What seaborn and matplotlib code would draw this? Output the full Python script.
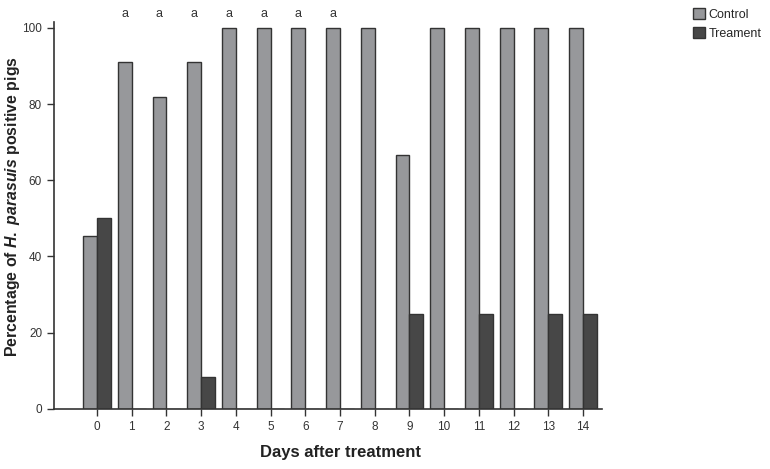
import numpy as np
import pandas as pd
import matplotlib
matplotlib.use('Agg')
import matplotlib.pyplot as plt
import seaborn as sns

days = list(range(15))
control = [45.5, 90.9, 81.8, 90.9, 100, 100, 100, 100, 100, 66.7, 100, 100, 100, 100, 100]
treatment = [50, 0, 0, 8.3, 0, 0, 0, 0, 0, 25, 0, 25, 0, 25, 25]
groups = ['Control', 'Treament']
marked_days = [1, 2, 3, 4, 5, 6, 7]

df = pd.DataFrame({
    'day': days * 2,
    'value': control + treatment,
    'group': [groups[0]] * len(days) + [groups[1]] * len(days),
})

sns.set_style('ticks')
plt.rcParams['font.family'] = ['Liberation Sans', 'DejaVu Sans']
plt.rcParams['mathtext.fontset'] = 'custom'
plt.rcParams['mathtext.it'] = 'Liberation Sans:bold:italic'
plt.rcParams['mathtext.rm'] = 'Liberation Sans:bold'

fig = plt.figure(figsize=(7.7, 4.69), dpi=100)
ax = fig.add_axes([0.070, 0.128, 0.712, 0.825])

sns.barplot(data=df, x='day', y='value', hue='group', hue_order=groups,
            palette=['#97989b', '#474747'], width=0.8, dodge=True,
            edgecolor='#333333', linewidth=1, saturation=1, ax=ax, legend=False)

# significance letters over the control bars
for d in marked_days:
    ax.text(d - 0.2, 103.6, 'a', ha='center', va='center', fontsize=9,
            color='#333333', clip_on=False)

ax.set_xlim(-1.24, 14.55)
ax.set_ylim(0, 101.5)
ax.set_yticks([0, 20, 40, 60, 80, 100])
ax.tick_params(axis='both', labelsize=8.5, colors='#333333', length=5, width=1)
for s in ['top', 'right']:
    ax.spines[s].set_visible(False)
for s in ['left', 'bottom']:
    ax.spines[s].set_color('#333333')
    ax.spines[s].set_linewidth(1.2)

ax.set_xlabel('Days after treatment', fontsize=12, fontweight='bold', color='#222222')
ax.set_ylabel(r'Percentage of $\mathit{H.\ parasuis}$ positive pigs',
              fontsize=11.4, fontweight='bold', color='#222222')
ax.xaxis.set_label_coords(0.522, -0.093)
ax.yaxis.set_label_coords(-0.058, 0.522)

handles = [plt.Rectangle((0, 0), 1, 1, facecolor=c, edgecolor='#333333', linewidth=1)
           for c in ['#97989b', '#474747']]
fig.legend(handles, groups, loc='upper left', bbox_to_anchor=(0.893, 0.993),
           frameon=False, fontsize=9, handlelength=1.0, handleheight=1.0,
           handletextpad=0.3, labelspacing=0.45, borderaxespad=0)

fig.savefig('out.png', dpi=100)
